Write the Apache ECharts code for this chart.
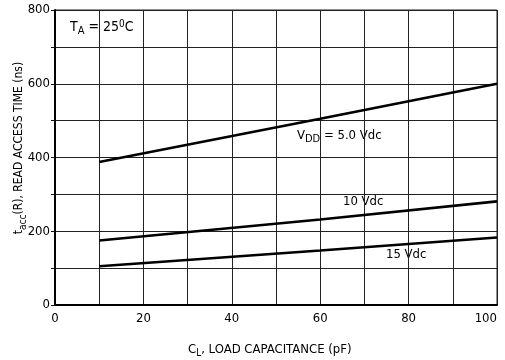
<!DOCTYPE html>
<html><head><meta charset="utf-8">
<script src="https://cdn.jsdelivr.net/npm/echarts@6/dist/echarts.min.js"></script>
<style>html,body{margin:0;padding:0;background:#fff}#c{width:505px;height:360px}</style>
</head><body><div id="c"></div>
<script>
const xTicks = [0, 20, 40, 60, 80, 100];
const yTicks = [0, 200, 400, 600, 800];
const capacitance = [10, 60, 100];
const vdd5 = [388, 505, 600];
const vdd10 = [175, 232, 281];
const vdd15 = [105, 148, 183];
const FONT = '"DejaVu Sans Condensed","Liberation Sans Narrow","Liberation Sans",sans-serif';
const W = 'normal';
const C = '#000';

const chart = echarts.init(document.getElementById('c'));
const mk = (vals) => capacitance.map((x, i) => [x, vals[i]]);
const lineStyle = {color: '#000', width: 2.6};
chart.setOption({
  animation: false,
  grid: {left: 55, right: 8, top: 10, bottom: 55, show: true, borderColor: '#222', borderWidth: 1,
    containLabel: false, outerBoundsMode: 'none'},
  xAxis: {
    type: 'value', min: 0, max: 100, interval: 10,
    axisLine: {show: true, lineStyle: {color: '#000', width: 2}},
    axisTick: {show: false},
    splitLine: {show: true, lineStyle: {color: '#222', width: 1}},
    axisLabel: {color: C, fontFamily: FONT, fontWeight: W, fontSize: 13, margin: 7, alignMaxLabel: 'right',
      formatter: v => xTicks.includes(v) ? String(v) : ''}
  },
  yAxis: {
    type: 'value', min: 0, max: 800, interval: 100,
    axisLine: {show: true, lineStyle: {color: '#000', width: 2}},
    axisTick: {show: true, inside: false, length: 4, lineStyle: {color: '#111'}},
    splitLine: {show: true, lineStyle: {color: '#222', width: 1}},
    axisLabel: {color: C, fontFamily: FONT, fontWeight: W, fontSize: 13, margin: 5,
      formatter: v => yTicks.includes(v) ? String(v) : ''}
  },
  series: [
    {type: 'line', data: mk(vdd5), symbol: 'none', lineStyle},
    {type: 'line', data: mk(vdd10), symbol: 'none', lineStyle},
    {type: 'line', data: mk(vdd15), symbol: 'none', lineStyle}
  ],
  graphic: [
    {type: 'text', left: 70, top: 19, style: {text: '{n|T}{s|A}{n| = 25}{u|0}{n|C}', rich: {
      n: {fontFamily: FONT, fontWeight: W, fontSize: 14, fill: C},
      s: {fontFamily: FONT, fontWeight: W, fontSize: 11, fill: C, padding: [8, 0, 0, 0]},
      u: {fontFamily: FONT, fontWeight: W, fontSize: 10, fill: C, padding: [0, 0, 6, 0]}}}},
    {type: 'text', left: 297, top: 129, style: {text: '{n|V}{s|DD}{n| = 5.0 Vdc}', rich: {
      n: {fontFamily: FONT, fontWeight: W, fontSize: 13, fill: C},
      s: {fontFamily: FONT, fontWeight: W, fontSize: 11, fill: C, padding: [8, 0, 0, 0]}}}},
    {type: 'text', left: 343, top: 195, style: {text: '10 Vdc', fontFamily: FONT, fontWeight: W, fontSize: 13, fill: C}},
    {type: 'text', left: 386, top: 248, style: {text: '15 Vdc', fontFamily: FONT, fontWeight: W, fontSize: 13, fill: C}},
    {type: 'text', left: 188, top: 343, style: {text: '{n|C}{s|L}{n|, LOAD CAPACITANCE (pF)}', rich: {
      n: {fontFamily: FONT, fontWeight: W, fontSize: 13, fill: C},
      s: {fontFamily: FONT, fontWeight: W, fontSize: 10, fill: C, padding: [8, 0, 0, 0]}}}},
    {type: 'text', x: 19, y: 148, rotation: Math.PI / 2, style: {
      text: '{n|t}{s|acc}{n|(R), READ ACCESS TIME (ns)}', align: 'center', verticalAlign: 'middle', rich: {
      n: {fontFamily: FONT, fontWeight: W, fontSize: 12, fill: C},
      s: {fontFamily: FONT, fontWeight: W, fontSize: 10, fill: C, padding: [8, 0, 0, 0]}}}}
  ]
});
</script></body></html>
